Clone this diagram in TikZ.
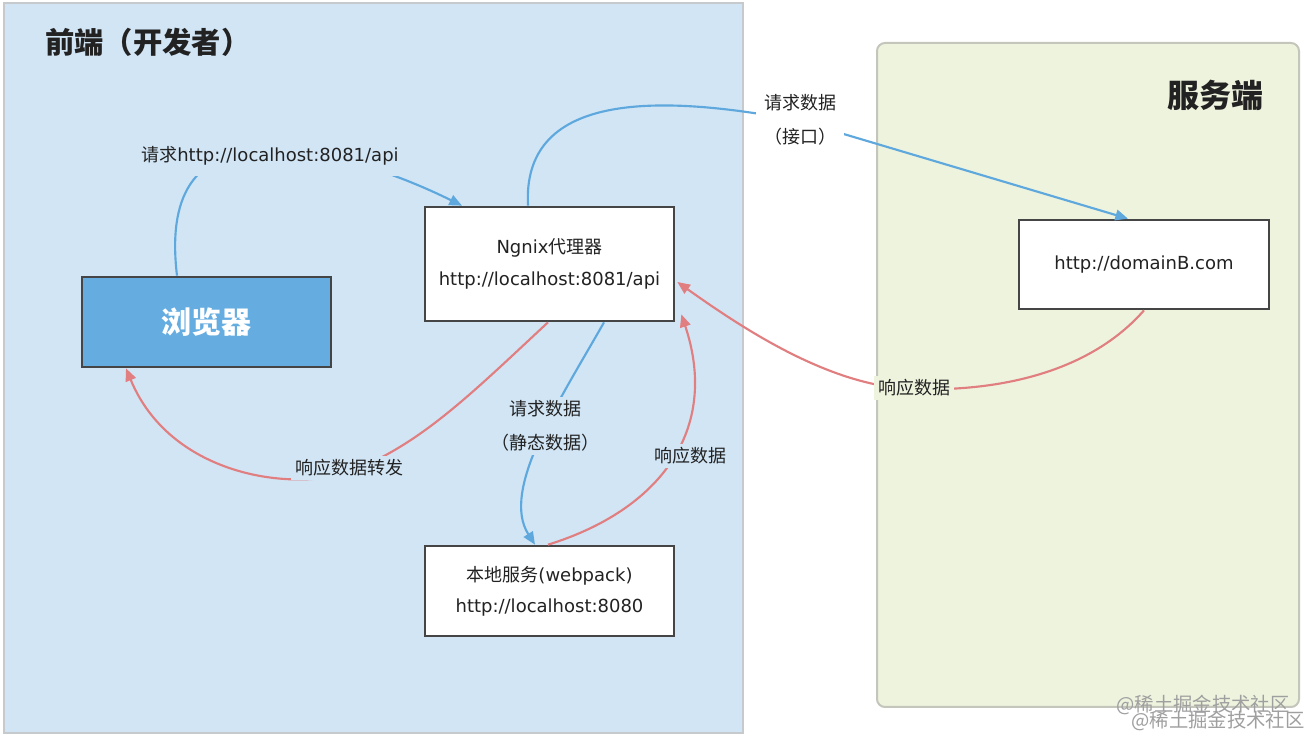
\documentclass[tikz,border=0pt]{standalone}
\usepackage{fontspec}
\setmainfont{DejaVu Sans}
\newfontfamily\cjk{Noto Sans CJK SC}
\usetikzlibrary{arrows.meta,calc}
\definecolor{panelblue}{HTML}{D1E5F5}
\definecolor{panelgreen}{HTML}{EEF3DE}
\definecolor{panelline}{HTML}{C6CACC}
\definecolor{greenline}{HTML}{C4C6BC}
\definecolor{boxline}{HTML}{454545}
\definecolor{browserfill}{HTML}{65ADE0}
\definecolor{reqblue}{HTML}{5EA8DD}
\definecolor{resred}{HTML}{E07E80}
\definecolor{ink}{HTML}{222222}
\tikzset{
  box/.style={draw=boxline, line width=2pt, fill=white, minimum width=186.75pt,
    minimum height=67.5pt, inner sep=0pt, align=center, text=ink,
    font=\fontsize{13.5pt}{24pt}\selectfont},
  req/.style={draw=reqblue, line width=1.6pt, -{Triangle[length=9.5pt,width=8pt]}},
  res/.style={draw=resred, line width=1.6pt, -{Triangle[length=9.5pt,width=8pt]}},
  lbl/.style={inner sep=3pt, align=center, text=ink,
    font=\fontsize{13.5pt}{25.5pt}\selectfont\cjk},
  title/.style={text=ink, inner sep=0pt, font=\cjk\bfseries\fontsize{22pt}{26pt}\selectfont},
  wmark/.style={text=gray!75, inner sep=0pt, font=\cjk\fontsize{14.5pt}{16pt}\selectfont}
}
\begin{document}
\begin{tikzpicture}[x=0.75pt,y=-0.75pt]
\useasboundingbox (0,0) rectangle (1304,737);
\fill[white] (0,0) rectangle (1304,737);
% panels
\draw[panelline, fill=panelblue, line width=1.5pt] (4,3) rectangle (743,733);
\draw[greenline, fill=panelgreen, line width=1.5pt, rounded corners=6pt] (877,43) rectangle (1299,707);
% titles
\node[title, anchor=west] (t1) at (45,42) {前端（开发者）};
\node[title, anchor=east, font=\cjk\bfseries\fontsize{24pt}{28pt}\selectfont] (t2) at (1264,95) {服务端};
% boxes
\node[box, fill=browserfill, text=white, font=\cjk\bfseries\fontsize{22.5pt}{26pt}\selectfont] (browser) at (206.5,322) {浏览器};
\node[box, minimum height=85.5pt] (ngnix) at (549.5,264) {Ngnix{\cjk 代理器}\\http://localhost:8081/api};
\node[box, minimum width=187.5pt, minimum height=66.75pt] (domain) at (1144,264.5) {http://domainB.com};
\node[box, font=\fontsize{13.5pt}{23pt}\selectfont] (local) at (549.5,591) {{\cjk 本地服务}(webpack)\\http://localhost:8080};
% connectors
\coordinate (c1) at (270,150);
\coordinate (c2) at (800,121);
\draw[req] ($(browser.north)+(-29.5,0)$) .. controls (168,200) and (190,150) .. (c1) .. controls (330,150) and (400,175) .. ($(ngnix.north)+(-87.5,0)$);
\draw[req] ($(ngnix.north)+(-21.5,0)$) .. controls (522,95) and (650,92) .. (c2) -- ($(domain.north)+(-16,0)$);
\draw[res] (domain.south) .. controls (1090,372) and (1000,392) .. (912,389) .. controls (830,386) and (745,330) .. ($(ngnix.east)+(2,18)$);
\draw[req] ($(ngnix.south)+(54.5,0)$) .. controls (560,400) and (500,490) .. ($(local.north)+(-14.5,0)$);
\draw[res] ($(local.north)+(-1.5,0)$) .. controls (660,510) and (720,430) .. ($(ngnix.south east)+(6,-8)$);
\draw[res] ($(ngnix.south)+(-1.5,0)$) .. controls (470,395) and (420,445) .. (349,472) .. controls (290,492) and (170,475) .. ($(browser.south)+(-80.5,0)$);
% labels
\node[lbl, fill=panelblue, inner ysep=8pt] (l1) at (270,156) {请求{\rmfamily http://localhost:8081/api}};
\node[lbl, fill=white, inner xsep=6pt] (l2) at (800,120) {请求数据\\（接口）};
\node[lbl, fill=panelgreen] (l3) at (914,388) {响应数据};
\node[lbl, fill=panelblue] (l4) at (545,426) {请求数据\\（静态数据）};
\node[lbl, fill=panelblue] (l5) at (690,456) {响应数据};
\node[lbl, fill=panelblue] (l6) at (349,468) {响应数据转发};
% watermark
\node[wmark] (w1) at (1203,705) {@稀土掘金技术社区};
\node[wmark] (w2) at (1218,721) {@稀土掘金技术社区};
\end{tikzpicture}
\end{document}
